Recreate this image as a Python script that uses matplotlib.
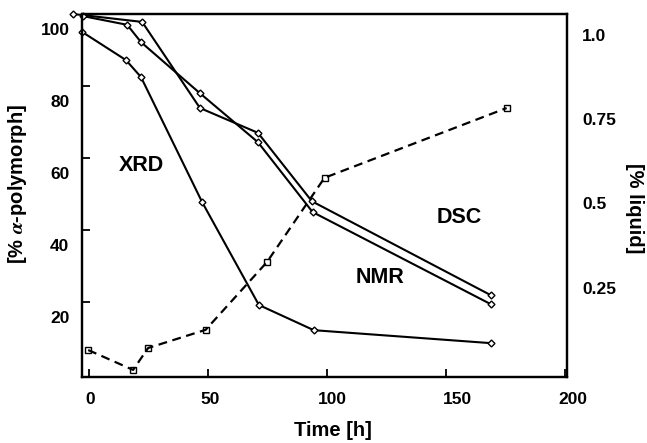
import matplotlib
matplotlib.use('Agg')
import matplotlib.pyplot as plt
import matplotlib.transforms as mtransforms

# ---- data ----
time_dsc = [-6.7, 22.3, 46.6, 71.0, 93.7, 169.0]
pct_dsc = [100.0, 97.8, 73.9, 67.0, 48.0, 21.9]

time_nmr = [-2.5, 16.0, 21.8, 46.6, 71.0, 94.0, 169.0]
pct_nmr = [99.4, 97.0, 92.2, 78.0, 64.4, 45.0, 19.4]

time_xrd = [-2.9, 15.5, 21.8, 47.5, 71.4, 94.5, 169.0]
pct_xrd = [95.0, 87.2, 82.5, 47.8, 19.2, 12.2, 8.6]

time_liq = [-0.4, 18.5, 24.8, 49.0, 74.8, 99.0, 175.6]
frac_liq = [0.065, 0.006, 0.071, 0.125, 0.326, 0.576, 0.783]

x_ticks = [0, 50, 100, 150, 200]
x_ticklabels = ['0', '50', '100', '150', '200']
yl_ticks = [20, 40, 60, 80, 100]
yl_ticklabels = ['20', '40', '60', '80', '100']
yr_ticks = [0.25, 0.5, 0.75, 1.0]
yr_ticklabels = ['0.25', '0.5', '0.75', '1.0']

plt.rcParams['font.family'] = ['Liberation Sans', 'DejaVu Sans']
plt.rcParams['font.weight'] = 'bold'
plt.rcParams['mathtext.fontset'] = 'stix'

fig = plt.figure(figsize=(6.47, 4.43), dpi=100)
ax = fig.add_axes([82/647, 66/443, 485/647, 363/443])

line_kw = dict(color='black', lw=1.5, marker='D', ms=3.5, mfc='white',
               mec='black', mew=1.0, clip_on=False)
ax.plot(time_dsc, pct_dsc, **line_kw)
ax.plot(time_nmr, pct_nmr, **line_kw)
ax.plot(time_xrd, pct_xrd, **line_kw)

ax.set_xlim(-3, 201)
ax.set_ylim(-0.8, 100)
ax.set_xticks(x_ticks)
ax.set_xticklabels(x_ticklabels, fontsize=12.5, fontweight='bold')
ax.set_yticks(yl_ticks)
ax.set_yticklabels(yl_ticklabels, fontsize=12.5, fontweight='bold')
ax.tick_params(axis='both', direction='in', length=6, width=1.3)
ax.tick_params(axis='x', pad=11)
ax.tick_params(axis='y', pad=9)

# labels printed a bit off their tick marks, as in the scan
offset = mtransforms.ScaledTranslation(0, -0.15, fig.dpi_scale_trans)
for lab in ax.get_yticklabels():
    lab.set_transform(lab.get_transform() + offset)
x_label_shift_px = [1, 2, 5, 12, 8]
for lab, dx in zip(ax.get_xticklabels(), x_label_shift_px):
    lab.set_transform(lab.get_transform() +
                      mtransforms.ScaledTranslation(dx / 100, 0, fig.dpi_scale_trans))

for sp in ax.spines.values():
    sp.set_linewidth(1.6)

ax.set_xlabel('Time [h]', fontsize=14.5, fontweight='bold')
ax.xaxis.set_label_coords(0.5175, -0.121)
ax.set_ylabel(r'[% $\alpha$-polymorph]', fontsize=14.5, fontweight='bold')
ax.yaxis.set_label_coords(-0.109, 0.532)

ax2 = ax.twinx()
ax2.plot(time_liq, frac_liq, color='black', lw=1.6, dashes=(4, 2.5),
         marker='s', ms=4.5, mfc='none', mec='black', mew=1.0, clip_on=False)
ax2.set_ylim(-0.015, 1.062)
ax2.set_yticks(yr_ticks)
ax2.set_yticklabels(yr_ticklabels, fontsize=12.5, fontweight='bold')
ax2.tick_params(axis='y', length=0, pad=11)
ax2.set_ylabel('[% liquid]', fontsize=14.5, fontweight='bold', rotation=270)
ax2.yaxis.set_label_coords(1.158, 0.4656)
for sp in ax2.spines.values():
    sp.set_linewidth(1.6)

ax.text(22, 58, 'XRD', fontsize=15.5, fontweight='bold', ha='center', va='center')
ax.text(122.5, 26.8, 'NMR', fontsize=15.5, fontweight='bold', ha='center', va='center')
ax.text(155.5, 43.5, 'DSC', fontsize=15.5, fontweight='bold', ha='center', va='center')

fig.savefig('out.png', dpi=100)
